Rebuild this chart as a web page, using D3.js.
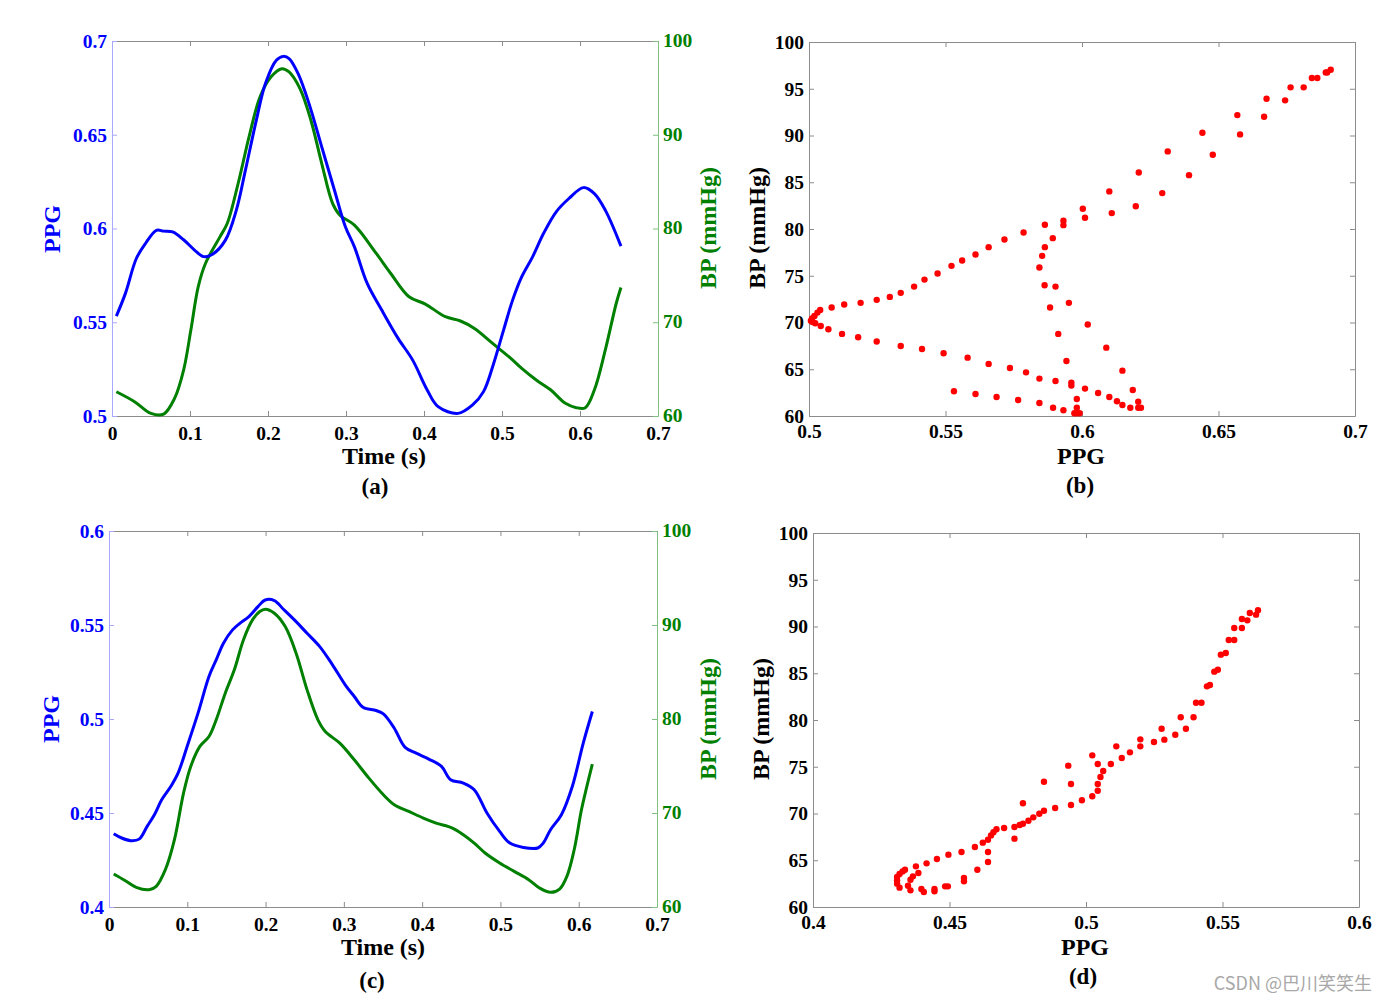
<!DOCTYPE html>
<html><head><meta charset="utf-8">
<script src="https://cdn.jsdelivr.net/npm/d3@7"></script>
<style>
body{margin:0;background:#fff;}
text{font-family:"Liberation Serif","Times New Roman",serif;font-weight:bold;}
text.wm{font-family:"Noto Sans CJK SC","Noto Sans",sans-serif;font-weight:normal;}
</style></head>
<body><svg id="c" width="1387" height="1002"></svg>
<script>
// ---------- DATA ----------
const aTimePPG = [0.0056,0.0172,0.0312,0.0429,0.0569,0.0662,0.0778,0.0918,0.1058,0.1174,0.129,0.1454,0.1594,0.171,0.185,0.1967,0.2107,0.22,0.227,0.2386,0.2526,0.2689,0.2852,0.2992,0.3108,0.3272,0.3458,0.3668,0.3855,0.4041,0.4181,0.4437,0.4623,0.4763,0.488,0.502,0.5136,0.5252,0.5392,0.5532,0.5695,0.5858,0.6044,0.6184,0.6324,0.6525];
const aPPG = [0.5533,0.5654,0.584,0.592,0.599,0.5986,0.5982,0.594,0.5885,0.585,0.5863,0.5938,0.6098,0.631,0.6577,0.6773,0.6897,0.6918,0.6906,0.6826,0.6666,0.6435,0.6204,0.6009,0.5902,0.5707,0.5565,0.5414,0.5298,0.5139,0.505,0.5014,0.5059,0.513,0.5263,0.5458,0.5618,0.5742,0.5849,0.5973,0.6089,0.616,0.6218,0.6186,0.6098,0.5906];
const aTimeBP = [0.0056,0.0289,0.0499,0.0662,0.0802,0.0918,0.1011,0.1105,0.1198,0.1384,0.1477,0.1617,0.1757,0.1897,0.2037,0.2177,0.227,0.241,0.255,0.2689,0.2829,0.2922,0.3108,0.3388,0.3574,0.3808,0.4017,0.4274,0.446,0.4647,0.488,0.5113,0.5253,0.5439,0.5626,0.5812,0.5952,0.6068,0.6184,0.6324,0.6464,0.6525];
const aBP = [62.59,61.53,60.28,60.21,61.88,64.9,69.17,73.78,76.27,79.11,80.53,84.8,89.77,94.03,96.16,97.05,96.7,94.92,91.55,86.93,82.66,81.42,80.36,77.34,75.2,72.72,71.94,70.59,70.16,69.34,67.74,66.15,65.08,63.84,62.77,61.35,60.89,60.89,62.77,67.03,72.0,73.71];

const cTimePPG = [0.006,0.0162,0.0279,0.0385,0.0487,0.058,0.0673,0.0789,0.0882,0.0998,0.1137,0.1277,0.1369,0.1462,0.1578,0.1671,0.1787,0.1903,0.1996,0.2112,0.2228,0.239,0.253,0.2692,0.2855,0.3017,0.3133,0.3249,0.3412,0.3505,0.3644,0.3783,0.3923,0.4085,0.4247,0.4363,0.4526,0.4665,0.4828,0.499,0.512,0.5292,0.5477,0.5547,0.564,0.5779,0.5918,0.6058,0.6174];
const cPPG = [0.439,0.4367,0.4353,0.4361,0.4429,0.4491,0.457,0.4641,0.4712,0.4854,0.5031,0.5226,0.5314,0.5403,0.5474,0.5509,0.5545,0.5598,0.5633,0.563,0.5584,0.5518,0.5456,0.5385,0.5288,0.5182,0.512,0.5061,0.5045,0.5027,0.4951,0.4849,0.4818,0.4787,0.4748,0.4677,0.4659,0.4624,0.45,0.4402,0.434,0.4317,0.4314,0.434,0.4411,0.4491,0.4641,0.4872,0.504];
const cTimeBP = [0.006,0.0209,0.0348,0.0511,0.0603,0.072,0.0836,0.0952,0.1044,0.1161,0.1277,0.1369,0.1485,0.1601,0.1717,0.1833,0.1926,0.1996,0.2112,0.2251,0.239,0.253,0.2669,0.2762,0.2948,0.3133,0.332,0.3505,0.3644,0.383,0.4015,0.4178,0.4386,0.4526,0.4665,0.4804,0.499,0.5176,0.5361,0.55,0.564,0.5756,0.5849,0.5942,0.6035,0.6104,0.6174];
const cBP = [63.51,62.8,62.09,61.84,62.2,63.97,67.16,72.12,74.95,77.08,78.14,79.91,82.75,85.23,88.41,90.54,91.43,91.67,91.25,89.83,87.0,83.1,79.91,78.67,77.43,75.66,73.71,71.94,70.88,70.17,69.46,68.93,68.4,67.69,66.8,65.74,64.68,63.79,62.91,62.02,61.56,61.91,63.26,66.09,70.34,72.83,75.2];

const bPPG = [0.6911,0.6893,0.6898,0.6862,0.6842,0.6812,0.6764,0.6744,0.6676,0.6667,0.6569,0.6579,0.6441,0.6479,0.6314,0.6392,0.6208,0.6294,0.61,0.6197,0.6109,0.6003,0.6011,0.5932,0.5932,0.5864,0.5786,0.5716,0.5658,0.561,0.5561,0.5522,0.5471,0.5423,0.5385,0.5336,0.5296,0.5248,0.5189,0.5129,0.5083,0.5041,0.5031,0.502,0.5011,0.5007,0.5013,0.5023,0.5043,0.5071,0.5121,0.518,0.5248,0.5336,0.5414,0.5493,0.5581,0.5658,0.5736,0.5795,0.5844,0.5903,0.5961,0.5961,0.6011,0.6059,0.61,0.6128,0.6148,0.6177,0.6206,0.6206,0.6216,0.6186,0.6148,0.6089,0.6021,0.5952,0.5903,0.5863,0.5844,0.5854,0.5864,0.5893,0.5883,0.5913,0.5943,0.5981,0.5981,0.5972,0.5981,0.5991,0.5932,0.5894,0.5844,0.5766,0.5687,0.561,0.5531];
const bBP = [97.04,96.75,96.75,96.15,96.15,95.15,95.15,93.76,93.93,92.0,92.18,90.12,90.3,87.94,88.3,85.76,86.05,83.84,84.02,82.44,81.7,82.16,81.2,80.88,80.41,80.45,79.63,78.88,78.06,77.27,76.63,76.06,75.24,74.59,73.84,73.17,72.74,72.42,72.1,71.92,71.6,71.35,71.06,70.7,70.42,70.2,70.06,69.92,69.63,69.28,68.78,68.42,67.96,67.49,67.17,66.71,66.24,65.57,65.14,64.67,64.0,63.75,63.57,63.25,62.93,62.46,62.03,61.57,61.18,60.89,61.53,60.89,60.89,62.78,64.85,67.31,69.78,72.1,73.84,73.99,75.88,77.13,78.06,79.02,71.6,68.78,65.89,61.82,60.89,60.29,60.29,60.29,60.61,60.89,61.39,61.71,62.03,62.36,62.64];

const dPPG = [0.563,0.5623,0.56,0.5591,0.5571,0.5571,0.5543,0.5543,0.5523,0.5512,0.5494,0.5483,0.547,0.5454,0.5443,0.5423,0.5403,0.5394,0.5347,0.5366,0.5327,0.5277,0.5287,0.5249,0.5199,0.5199,0.5161,0.5131,0.5111,0.5091,0.5063,0.5053,0.5043,0.5023,0.5043,0.5043,0.5023,0.4985,0.4945,0.4935,0.4945,0.4887,0.4846,0.4846,0.4829,0.4807,0.4789,0.4769,0.4757,0.4769,0.4738,0.4738,0.47,0.4672,0.4661,0.4652,0.4641,0.4622,0.4641,0.4641,0.4593,0.4544,0.4496,0.4454,0.4416,0.4377,0.4337,0.4328,0.4317,0.4308,0.4308,0.4308,0.4317,0.4357,0.4348,0.4357,0.4366,0.4386,0.4397,0.4406,0.4445,0.4445,0.4484,0.4494,0.4553,0.4553,0.4602];
const dBP = [91.73,91.27,91.44,90.66,90.8,89.84,89.84,88.55,88.55,87.17,86.99,85.38,85.17,83.74,83.6,81.85,81.85,80.29,80.29,79.07,78.43,79.07,77.9,77.65,77.93,77.18,76.54,75.94,77.18,75.29,74.55,73.9,75.29,76.22,73.16,72.44,71.84,71.41,70.91,75.12,73.16,70.59,70.3,73.4,69.98,69.59,69.23,68.91,68.77,71.09,68.56,67.31,68.45,68.31,67.99,67.66,67.2,66.88,65.88,64.81,66.42,65.88,65.6,65.13,64.67,64.35,63.99,63.81,63.53,63.21,62.85,62.5,62.07,61.78,62.28,62.92,63.28,63.64,61.93,61.6,61.93,61.68,62.21,62.21,63.1,62.75,63.99];

const timeTicks = [0,0.1,0.2,0.3,0.4,0.5,0.6,0.7];
const timeTickLabels = ["0","0.1","0.2","0.3","0.4","0.5","0.6","0.7"];
const ppgTicksA = [0.5,0.55,0.6,0.65,0.7];
const ppgTickLabelsA = ["0.5","0.55","0.6","0.65","0.7"];
const ppgTicksC = [0.4,0.45,0.5,0.55,0.6];
const ppgTickLabelsC = ["0.4","0.45","0.5","0.55","0.6"];
const bpTicks10 = [60,70,80,90,100];
const bpTicks5 = [60,65,70,75,80,85,90,95,100];
const ppgTicksB = [0.5,0.55,0.6,0.65,0.7];
const ppgTickLabelsB = ["0.5","0.55","0.6","0.65","0.7"];
const ppgTicksD = [0.4,0.45,0.5,0.55,0.6];
const ppgTickLabelsD = ["0.4","0.45","0.5","0.55","0.6"];

// ---------- DRAW ----------
const svg = d3.select("#c");
const BLUE="#0000ff", GREEN="#008000", RED="#ff0000";
const FRAME="#8c8c8c", LBLUE="#a8a8ff", LGREEN="#80c080";
const TICKFS=19.5, LABFS=24;

function fmtMap(ticks, labels){ return v => labels[ticks.indexOf(v)] ?? String(v); }

function frameAxes(g, x, y, yR, opts){
  const [x0,x1]=x.range(), [y1,y0]=y.range();
  const bottom = g.append("g").attr("transform",`translate(0,${y1})`)
    .call(d3.axisBottom(x).tickValues(opts.xTicks).tickFormat(fmtMap(opts.xTicks,opts.xLabels)).tickSizeInner(-5).tickSizeOuter(0).tickPadding(opts.xPad));
  bottom.select(".domain").attr("stroke",FRAME);
  bottom.selectAll(".tick line").attr("stroke",FRAME);
  bottom.selectAll("text").attr("font-size",TICKFS).attr("fill","#000").attr("font-family","Liberation Serif").attr("font-weight","bold");
  const top = g.append("g").attr("transform",`translate(0,${y0})`)
    .call(d3.axisTop(x).tickValues(opts.xTicks).tickFormat("").tickSizeInner(-5).tickSizeOuter(0));
  top.select(".domain").attr("stroke",FRAME);
  top.selectAll(".tick line").attr("stroke",FRAME);
  const left = g.append("g").attr("transform",`translate(${x0},0)`)
    .call(d3.axisLeft(y).tickValues(opts.yTicks).tickFormat(fmtMap(opts.yTicks,opts.yLabels)).tickSizeInner(-5).tickSizeOuter(0).tickPadding(5));
  left.select(".domain").attr("stroke",opts.leftLine);
  left.selectAll(".tick line").attr("stroke",opts.leftLine);
  left.selectAll("text").attr("font-size",TICKFS).attr("fill",opts.leftText).attr("font-family","Liberation Serif").attr("font-weight","bold");
  const rScale = yR || y;
  const rTicks = yR ? opts.rTicks : opts.yTicks;
  const right = g.append("g").attr("transform",`translate(${x1},0)`)
    .call(d3.axisRight(rScale).tickValues(rTicks).tickFormat(yR ? (d=>String(d)) : "").tickSizeInner(-5).tickSizeOuter(0).tickPadding(5));
  right.select(".domain").attr("stroke",yR?LGREEN:FRAME);
  right.selectAll(".tick line").attr("stroke",yR?LGREEN:FRAME);
  right.selectAll("text").attr("font-size",TICKFS).attr("fill",GREEN).attr("font-family","Liberation Serif").attr("font-weight","bold").attr("dy","0.28em");
}

function label(txt, x, y, color, rot, size){
  const t = svg.append("text").attr("font-size",size||LABFS).attr("fill",color).attr("text-anchor","middle").text(txt);
  if(rot) t.attr("transform",`translate(${x},${y}) rotate(-90)`).attr("dy","0.35em");
  else t.attr("x",x).attr("y",y);
}

function linePanel(box, yTicks, yLabels, tX1, s1, tX2, s2, labels){
  const x = d3.scaleLinear().domain([0,0.7]).range([box.x0,box.x1]);
  const y = d3.scaleLinear().domain([yTicks[0],yTicks[yTicks.length-1]]).range([box.y1,box.y0]);
  const yR = d3.scaleLinear().domain([60,100]).range([box.y1,box.y0]);
  const g = svg.append("g");
  frameAxes(g,x,y,yR,{xTicks:timeTicks,xLabels:timeTickLabels,yTicks,yLabels,rTicks:bpTicks10,leftLine:LBLUE,leftText:BLUE,xPad:10});
  const l1 = d3.line().curve(d3.curveCatmullRom).x((d,i)=>x(tX1[i])).y(d=>y(d));
  const l2 = d3.line().curve(d3.curveCatmullRom).x((d,i)=>x(tX2[i])).y(d=>yR(d));
  g.append("path").attr("d",l2(s2)).attr("fill","none").attr("stroke",GREEN).attr("stroke-width",3).attr("stroke-linejoin","round");
  g.append("path").attr("d",l1(s1)).attr("fill","none").attr("stroke",BLUE).attr("stroke-width",3).attr("stroke-linejoin","round");
  label("PPG",labels.ppgX,labels.ppgY,BLUE,true);
  label("BP (mmHg)",labels.bpX,labels.bpY,GREEN,true);
  label("Time (s)",labels.tX,labels.tY,"#000");
  label(labels.tag,labels.tagX,labels.tagY,"#000",false,23);
}

function scatterPanel(box, xTicks, xLabels, px, py, labels){
  const x = d3.scaleLinear().domain([xTicks[0],xTicks[xTicks.length-1]]).range([box.x0,box.x1]);
  const y = d3.scaleLinear().domain([60,100]).range([box.y1,box.y0]);
  const g = svg.append("g");
  frameAxes(g,x,y,null,{xTicks,xLabels,yTicks:bpTicks5,yLabels:bpTicks5.map(String),leftLine:FRAME,leftText:"#000",xPad:8});
  g.selectAll("circle.pt").data(px).join("circle").attr("class","pt")
    .attr("cx",d=>x(d)).attr("cy",(d,i)=>y(py[i])).attr("r",3.2).attr("fill",RED);
  label("BP (mmHg)",labels.bpX,labels.bpY,"#000",true);
  label("PPG",labels.pX,labels.pY,"#000");
  label(labels.tag,labels.tagX,labels.tagY,"#000",false,23);
}

linePanel({x0:112,x1:658,y0:41,y1:416}, ppgTicksA, ppgTickLabelsA, aTimePPG, aPPG, aTimeBP, aBP,
  {ppgX:52,ppgY:229,bpX:708,bpY:228,tX:384,tY:464,tag:"(a)",tagX:375,tagY:494});
linePanel({x0:109,x1:657,y0:531,y1:907}, ppgTicksC, ppgTickLabelsC, cTimePPG, cPPG, cTimeBP, cBP,
  {ppgX:51,ppgY:719,bpX:708,bpY:719,tX:383,tY:955,tag:"(c)",tagX:372,tagY:988});
scatterPanel({x0:809,x1:1355,y0:42,y1:416}, ppgTicksB, ppgTickLabelsB, bPPG, bBP,
  {bpX:757,bpY:228,pX:1081,pY:464,tag:"(b)",tagX:1080,tagY:493});
scatterPanel({x0:813,x1:1359,y0:533,y1:907}, ppgTicksD, ppgTickLabelsD, dPPG, dBP,
  {bpX:761,bpY:719,pX:1085,pY:955,tag:"(d)",tagX:1083,tagY:984});

svg.append("text").attr("class","wm").attr("x",1372).attr("y",990).attr("text-anchor","end")
  .attr("font-size",18).attr("fill","#a8a8a8").text("CSDN @巴川笑笑生");
</script></body></html>
